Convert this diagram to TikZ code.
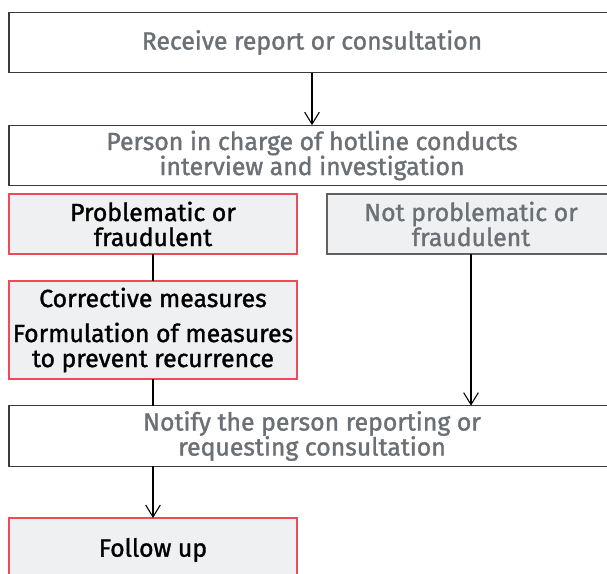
\documentclass[tikz,border=0pt]{standalone}
\usepackage{fontspec}
\setmainfont{Fira Sans}[FakeBold=1.4]
\usetikzlibrary{positioning, arrows.meta}
\definecolor{paneFill}{HTML}{EFF0F2}
\definecolor{paneRed}{HTML}{EE4B5A}
\definecolor{paneText}{HTML}{6B7075}
\definecolor{paneLine}{HTML}{3A3A3A}

\tikzset{
  flowbox/.style={draw=paneLine, line width=0.8pt, inner sep=0pt, outer sep=0pt, align=center, text=paneText},
  widebox/.style={flowbox, fill=white, minimum width=454.5pt, minimum height=45.5pt},
  halfbox/.style={flowbox, minimum width=216pt, minimum height=45pt, fill=paneFill},
  redbox/.style={halfbox, draw=paneRed, text=black},
  greybox/.style={halfbox, draw=paneLine!80}
}

\begin{document}
\begin{tikzpicture}[x=0.75pt, y=-0.75pt, line width=0.8pt, font=\fontsize{18.6}{18.75}\selectfont, -{Straight Barb[length=9pt,width=11pt]}]
        \path[use as bounding box, clip] (0,0) rectangle (607,574);

        \node[widebox] (receive) at (312,42.5) {Receive report or consultation};
        \node[widebox] (hearing) at (312,155.5) {Person in charge of hotline conducts\\interview and investigation};
        \node[redbox] (problem) at (153,224) {Problematic or\\fraudulent};
        \node[greybox] (noproblem) at (471,224) {Not problematic or\\fraudulent};
        \node[redbox, minimum height=73.5pt] (measures) at (153,330) {Corrective measures\\[7.5pt]Formulation of measures\\to prevent recurrence};
        \node[widebox] (notify) at (312,436) {Notify the person reporting or\\requesting consultation};
        \node[redbox, minimum height=48pt] (followup) at (153,550) {Follow up};

        \path (receive) edge (hearing);
        \path (problem) edge[-] (measures);
        \path (measures) edge[-] (measures |- notify.north);
        \path (noproblem) edge (noproblem |- notify.north);
        \path (notify.south -| followup) edge (followup);
    \end{tikzpicture}
\end{document}
